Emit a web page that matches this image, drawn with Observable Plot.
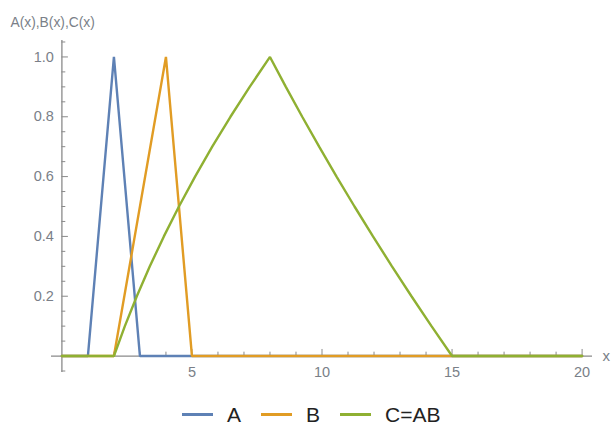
<!DOCTYPE html>
<html>
<head>
<meta charset="utf-8">
<script src="https://cdn.jsdelivr.net/npm/d3@7"></script>
<script src="https://cdn.jsdelivr.net/npm/@observablehq/plot@0.6"></script>
<style>
  html, body { margin: 0; padding: 0; background: #fff; }
  #wrap { width: 613px; }
  #legend { height: 35px; display: flex; justify-content: flex-start; align-items: center; padding-left: 182px; padding-top: 14px; box-sizing: border-box;
            font-family: "Liberation Sans", Arial, sans-serif; font-size: 21px; color: #222; }
  .item { display: flex; align-items: center; margin-right: 20px; }
  .sw { width: 31px; height: 3px; margin-right: 14px; }
</style>
</head>
<body>
<div id="wrap"></div>
<script>
// Data
const seriesNames = ["A", "B", "C=AB"];
const seriesColors = ["#5E81B5", "#E19C24", "#8FB032"];
const aX = [0, 1, 2, 3, 20];
const aY = [0, 0, 1, 0, 0];
const bX = [0, 2, 4, 5, 20];
const bY = [0, 0, 1, 0, 0];
const cX = [0, 2, 2.42, 2.88, 3.38, 3.92, 4.5, 5.12, 5.78, 6.48, 7.22, 8, 8.61, 9.24, 9.89, 10.56, 11.25, 11.96, 12.69, 13.44, 14.21, 15, 20];
const cY = [0, 0, 0.1, 0.2, 0.3, 0.4, 0.5, 0.6, 0.7, 0.8, 0.9, 1, 0.9, 0.8, 0.7, 0.6, 0.5, 0.4, 0.3, 0.2, 0.1, 0, 0];
const xMajor = [5, 10, 15, 20];
const xMinor = [1, 2, 3, 4, 6, 7, 8, 9, 11, 12, 13, 14, 16, 17, 18, 19];
const yMajor = [0.2, 0.4, 0.6, 0.8, 1.0];
const yMinor = [-0.05, 0.05, 0.1, 0.15, 0.25, 0.3, 0.35, 0.45, 0.5, 0.55, 0.65, 0.7, 0.75, 0.85, 0.9, 0.95, 1.05];
const xDomain = [-0.4, 20.4];
const yDomain = [-0.055, 1.055];
const yLabel = "A(x),B(x),C(x)";
const xLabel = "x";

const rows = [];
[[aX, aY], [bX, bY], [cX, cY]].forEach(([xs, ys], i) => {
  xs.forEach((x, j) => rows.push({series: seriesNames[i], x, y: ys[j]}));
});

const axisColor = "#8a8a8a";
const labelColor = "#7a7f88";
const font = "Liberation Sans, Arial, sans-serif";

const chart = Plot.plot({
  width: 613,
  height: 390,
  marginLeft: 51,
  marginRight: 21,
  marginTop: 40,
  marginBottom: 18,
  x: {domain: xDomain, axis: null},
  y: {domain: yDomain, axis: null},
  color: {domain: seriesNames, range: seriesColors},
  style: {fontFamily: font, fontSize: "14.5px", background: "white"},
  marks: [
    // axes lines
    Plot.ruleY([0], {x1: xDomain[0], x2: xDomain[1], stroke: axisColor, strokeWidth: 1.3}),
    Plot.ruleX([0], {y1: yDomain[0], y2: yDomain[1], stroke: axisColor, strokeWidth: 1.3}),
    // x ticks
    Plot.ruleX(xMinor, {y1: 0, y2: 0.013, stroke: axisColor}),
    Plot.ruleX(xMajor, {y1: 0, y2: 0.022, stroke: axisColor}),
    Plot.text(xMajor, {x: d => d, y: 0, dy: 16, text: d => String(d), fill: labelColor}),
    // y ticks
    Plot.ruleY(yMinor, {x1: 0, x2: 0.15, stroke: axisColor}),
    Plot.ruleY(yMajor, {x1: 0, x2: 0.25, stroke: axisColor}),
    Plot.text(yMajor, {x: 0, y: d => d, dx: -8, textAnchor: "end", text: d => d.toFixed(1), fill: labelColor}),
    // axis labels
    Plot.text([xLabel], {x: xDomain[1], y: 0, dx: 10, textAnchor: "start", text: d => d, fill: labelColor, fontSize: 15}),
    Plot.text([yLabel], {frameAnchor: "top-left", dx: -41, dy: -23, textAnchor: "start", text: d => d, fill: labelColor, fontSize: 13.8}),
    // lines
    Plot.line(rows, {x: "x", y: "y", z: "series", stroke: "series", strokeWidth: 2.4, strokeLinejoin: "miter"})
  ]
});
document.getElementById("wrap").appendChild(chart);

const legend = document.createElement("div");
legend.id = "legend";
seriesNames.forEach((n, i) => {
  const item = document.createElement("div");
  item.className = "item";
  const sw = document.createElement("div");
  sw.className = "sw";
  sw.style.background = seriesColors[i];
  const t = document.createElement("span");
  t.textContent = n;
  item.appendChild(sw);
  item.appendChild(t);
  legend.appendChild(item);
});
document.getElementById("wrap").appendChild(legend);
</script>
</body>
</html>
